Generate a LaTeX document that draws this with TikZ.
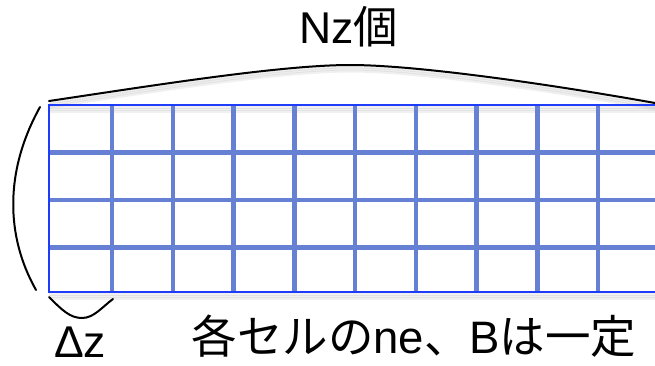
\documentclass[tikz,border=0pt]{standalone}
\usepackage{fontspec}
\setmainfont{Liberation Sans}
\newfontfamily\cjk{Noto Sans CJK JP}
\definecolor{gridblue}{RGB}{102,128,212}
\definecolor{edgeblue}{RGB}{30,60,250}
\begin{document}
\begin{tikzpicture}[x=1pt,y=-1pt,
  gridline/.style={draw=gridblue,line width=4.5pt},
  borderline/.style={draw=edgeblue,line width=1.8pt},
  bracecurve/.style={draw=black,line width=2pt,line cap=round},
  shadowline/.style={draw=black,opacity=0.06,line width=3pt},
  lbl/.style={inner sep=0pt,anchor=base,font=\fontsize{44.5}{50}\selectfont}]
\useasboundingbox (0,0) rectangle (655,365);
\clip (0,0) rectangle (655,365);
% coordinates
\coordinate (tl) at (49,105);
\coordinate (tr) at (670,105);
\coordinate (bl) at (49,292);
\coordinate (br) at (670,292);
% shadows
\foreach \d in {2,4,6}{
  \path[shadowline] (49,105+\d) -- (670,105+\d);
  \path[shadowline] (49,292+\d) -- (670,292+\d);
  \path[shadowline] (49,101+\d) .. controls (150,86+\d) and (280,65+\d) .. (350,65+\d)
      .. controls (420,65+\d) and (560,86+\d) .. (655,103+\d);
}
% inner grid lines
\foreach \y in {152.5,200,247.5}{
  \path[gridline] (49,\y) -- (670,\y);
}
\foreach \k in {0,...,8}{
  \path[gridline] ({112+60.75*\k},105) -- ({112+60.75*\k},292);
}
% border
\path[borderline] (tr) -- (tl) -- (bl) -- (br);
% top brace
\coordinate (ta) at (49,101);
\coordinate (tp) at (350,65);
\coordinate (tb) at (655,103);
\path[bracecurve] (ta) .. controls (150,86) and (280,65) .. (tp)
  .. controls (420,65) and (560,86) .. (tb);
% left brace
\coordinate (la) at (40,107);
\coordinate (lb) at (36,290);
\path[bracecurve] (la) .. controls (5,170) and (5,235) .. (lb);
% bottom brace
\coordinate (ba) at (49,297);
\coordinate (bm) at (82,318);
\coordinate (bb) at (113,299);
\path[bracecurve] (ba) .. controls (62,310) and (70,318) .. (bm)
  .. controls (94,318) and (102,307) .. (bb);
% labels
\node[lbl] (nz) at (349,43) {Nz{\cjk 個}};
\node[lbl] (dz) at (80,357) {Δz};
\node[lbl,font=\fontsize{45.5}{50}\selectfont] (note) at (414,353) {{\cjk 各セルの}ne{\cjk 、}B{\cjk は一定}};
\end{tikzpicture}
\end{document}
